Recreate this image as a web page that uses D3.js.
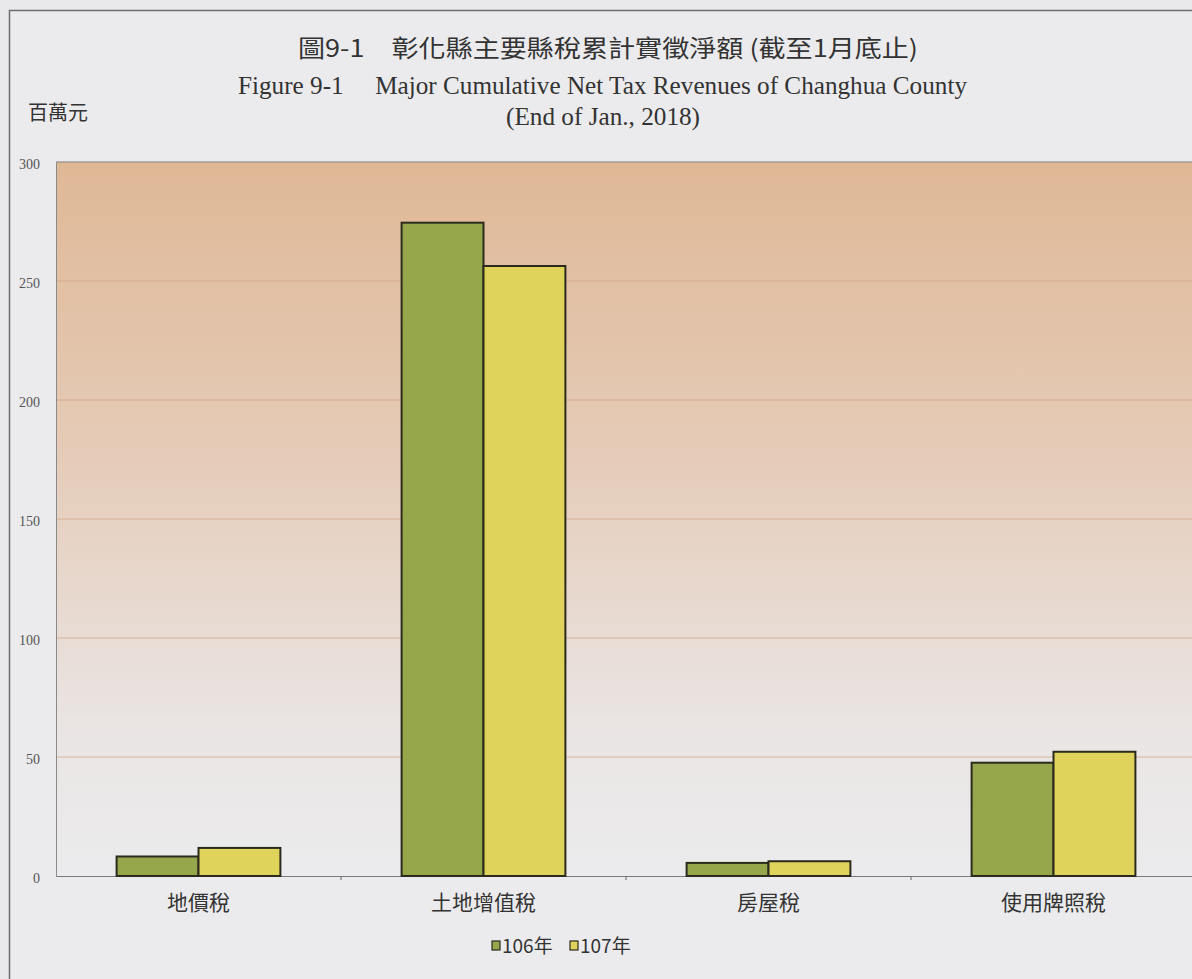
<!DOCTYPE html>
<html>
<head>
<meta charset="utf-8">
<script src="https://cdn.jsdelivr.net/npm/d3@7"></script>
<style>
  body { margin: 0; background: #e9e9eb; overflow: hidden; }
  svg { display: block; }
</style>
</head>
<body>
<div id="chart"></div>
<script>
// data
var categories = ["地價稅", "土地增值稅", "房屋稅", "使用牌照稅"];
var seriesNames = ["106年", "107年"];
var values106 = [8.2, 274.5, 5.5, 47.6];
var values107 = [11.8, 256.3, 6.2, 52.2];
var yTicks = [0, 50, 100, 150, 200, 250, 300];

var svgWidth = 1192;
var svgHeight = 979;

var margin = { top: 162, left: 56, bottom: 103, right: -4 };
var width = svgWidth - margin.left - margin.right;
var height = svgHeight - margin.top - margin.bottom;

var colors = ["#95a74a", "#e0d35b"];
var cjk = "'Noto Sans CJK TC', 'Noto Sans CJK SC', sans-serif";
var serif = "'Liberation Serif', 'DejaVu Serif', serif";

var svg = d3.select("#chart")
  .append("svg")
  .attr("width", svgWidth)
  .attr("height", svgHeight);

// outer frame
svg.append("rect")
  .attr("x", 9.5).attr("y", 10.5)
  .attr("width", svgWidth + 20).attr("height", svgHeight + 20)
  .attr("fill", "#ebebed")
  .attr("stroke", "#6d6d6d")
  .attr("stroke-width", 1.5);

// gradient for plot background
var defs = svg.append("defs");
var grad = defs.append("linearGradient")
  .attr("id", "bg").attr("x1", 0).attr("y1", 0).attr("x2", 0).attr("y2", 1);
grad.append("stop").attr("offset", "0%").attr("stop-color", "#dfb896");
grad.append("stop").attr("offset", "40%").attr("stop-color", "#e5cbb7");
grad.append("stop").attr("offset", "80%").attr("stop-color", "#eae5e4");
grad.append("stop").attr("offset", "100%").attr("stop-color", "#ebebed");

var chartGroup = svg.append("g")
  .attr("transform", `translate(${margin.left}, ${margin.top})`);

var xScale = d3.scaleBand()
  .domain(categories)
  .range([0, width])
  .paddingInner(0)
  .paddingOuter(0);

var xInner = d3.scaleBand()
  .domain(seriesNames)
  .range([0, xScale.bandwidth()])
  .paddingInner(0)
  .paddingOuter(0.74);

var yScale = d3.scaleLinear()
  .domain([0, 300])
  .range([height, 0]);

chartGroup.append("rect")
  .attr("x", 0).attr("y", 0)
  .attr("width", width).attr("height", height)
  .attr("fill", "url(#bg)");

// gridlines
chartGroup.selectAll(".grid")
  .data(yTicks.filter(d => d > 0))
  .enter()
  .append("line")
  .attr("x1", 0).attr("x2", width)
  .attr("y1", d => yScale(d)).attr("y2", d => yScale(d))
  .attr("stroke", d => d == 300 ? "#8a8078" : "#d2a486")
  .attr("stroke-opacity", d => d == 300 ? 1 : 0.75)
  .attr("stroke-width", d => d == 300 ? 1.2 : 1);

// y axis
var leftAxis = d3.axisLeft(yScale).tickValues(yTicks).tickSize(0).tickPadding(16);
var yAxisG = chartGroup.append("g").call(leftAxis);
yAxisG.select(".domain").attr("stroke", "#8a8a8a");
yAxisG.selectAll("text")
  .style("font-family", serif)
  .style("font-size", "14px")
  .attr("fill", "#555")
  .attr("dy", "0.45em");

// x axis
var bottomAxis = d3.axisBottom(xScale).tickSize(0).tickPadding(19);
var xAxisG = chartGroup.append("g")
  .attr("transform", `translate(0, ${height})`)
  .call(bottomAxis);
xAxisG.select(".domain").attr("stroke", "#7a7a7a");
xAxisG.selectAll("text")
  .style("font-family", cjk)
  .style("font-size", "21px")
  .attr("fill", "#333");

// small ticks between categories
chartGroup.selectAll(".sep")
  .data(categories.slice(1))
  .enter()
  .append("line")
  .attr("x1", d => xScale(d)).attr("x2", d => xScale(d))
  .attr("y1", height).attr("y2", height + 4)
  .attr("stroke", "#666");

// bars
var rows = categories.map((c, i) => ({ cat: c, vals: [values106[i], values107[i]] }));

var groups = chartGroup.selectAll(".cat")
  .data(rows)
  .enter()
  .append("g")
  .attr("transform", d => `translate(${xScale(d.cat)}, 0)`);

groups.selectAll("rect")
  .data(d => d.vals.map((v, j) => ({ name: seriesNames[j], value: v, j: j })))
  .enter()
  .append("rect")
  .attr("x", d => xInner(d.name))
  .attr("y", d => yScale(d.value))
  .attr("width", xInner.bandwidth())
  .attr("height", d => height - yScale(d.value))
  .attr("fill", d => colors[d.j])
  .attr("stroke", "#2b2a1c")
  .attr("stroke-width", 2);

// titles
svg.append("text")
  .attr("x", 298).attr("y", 57)
  .style("font-family", cjk)
  .style("font-size", "24px")
  .attr("fill", "#333")
  .attr("textLength", 620)
  .attr("lengthAdjust", "spacingAndGlyphs")
  .text("圖9-1　彰化縣主要縣稅累計實徵淨額 (截至1月底止)");

svg.append("text")
  .attr("x", 238).attr("y", 94)
  .style("font-family", serif)
  .style("font-size", "26px")
  .attr("fill", "#333")
  .attr("xml:space", "preserve")
  .attr("textLength", 729)
  .attr("lengthAdjust", "spacingAndGlyphs")
  .text("Figure 9-1     Major Cumulative Net Tax Revenues of Changhua County");

svg.append("text")
  .attr("x", 506).attr("y", 125)
  .style("font-family", serif)
  .style("font-size", "26px")
  .attr("fill", "#333")
  .attr("textLength", 194)
  .attr("lengthAdjust", "spacingAndGlyphs")
  .text("(End of Jan., 2018)");

svg.append("text")
  .attr("x", 28).attr("y", 120)
  .style("font-family", cjk)
  .style("font-size", "20px")
  .attr("fill", "#333")
  .text("百萬元");

// legend
var legend = svg.append("g").attr("transform", "translate(492, 946)");
var legendItems = legend.selectAll("g")
  .data(seriesNames)
  .enter()
  .append("g")
  .attr("transform", (d, i) => `translate(${i * 78}, 0)`);

legendItems.append("rect")
  .attr("x", 0).attr("y", -5)
  .attr("width", 8).attr("height", 9)
  .attr("fill", (d, i) => colors[i])
  .attr("stroke", "#2b2a1c")
  .attr("stroke-width", 1.2);

legendItems.append("text")
  .attr("x", 10).attr("y", 7)
  .style("font-family", cjk)
  .style("font-size", "19px")
  .attr("fill", "#333")
  .text(d => d);
</script>
</body>
</html>
